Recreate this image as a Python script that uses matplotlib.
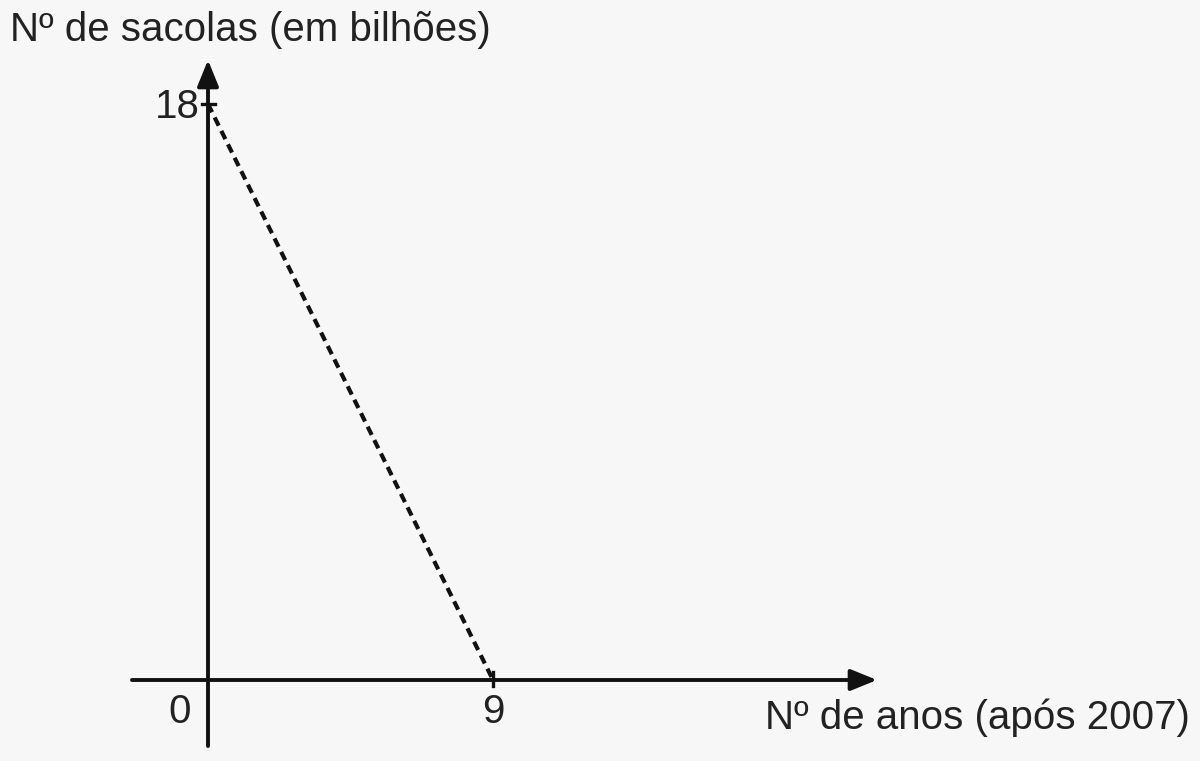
import matplotlib.pyplot as plt

# dados do gráfico
anos = [0, 9]
sacolas = [18, 0]
xticks = [0, 9]
yticks = [18]
titulo_y = 'Nº de sacolas (em bilhões)'
titulo_x = 'Nº de anos (após 2007)'

plt.rcParams['font.family'] = ['Liberation Sans', 'DejaVu Sans']

fig = plt.figure(figsize=(12, 7.61), dpi=100)
fig.patch.set_facecolor('#f7f7f7')
ax = fig.add_axes([0, 0, 1, 1])
ax.set_facecolor('#f7f7f7')

# escala: x=0 -> 208px, x=9 -> 493px ; y=0 -> 680px, y=18 -> 104px
sx = (493 - 208) / 9
sy = (680 - 104) / 18
ax.set_xlim(-208 / sx, (1200 - 208) / sx)
ax.set_ylim((680 - 761) / sy, 680 / sy)
ax.axis('off')

seta = dict(arrowstyle='-|>,head_length=1.6,head_width=0.65', color='#111111', lw=2.8,
            shrinkA=0, shrinkB=0)

# eixos com setas
ax.annotate('', xy=((877 - 208) / sx, 0), xytext=((132 - 208) / sx, 0), arrowprops=seta)
ax.annotate('', xy=(0, (680 - 60) / sy), xytext=(0, (680 - 746) / sy), arrowprops=seta)

# reta tracejada
ax.plot(anos, sacolas, color='#111111', lw=3, linestyle=(0, (2.2, 1.4)))

# marcas
for t in yticks:
    ax.plot([-6 / sx, 7 / sx], [t, t], color='#111111', lw=2.4)
    ax.text(-8 / sx, t - 3 / sy, str(t), ha='right', va='center', fontsize=29, color='#222222')
for t in xticks:
    if t != 0:
        ax.plot([t, t], [-6 / sy, 8 / sy], color='#111111', lw=2.4)
    ax.text(t - (28 / sx if t == 0 else 0), -32 / sy, str(t), ha='center', va='center',
            fontsize=29, color='#222222')

ax.text(-198 / sx, (680 - 30) / sy, titulo_y, ha='left', va='center', fontsize=29, color='#222222')
ax.text((1190 - 208) / sx, -38 / sy, titulo_x, ha='right', va='center', fontsize=29, color='#222222')

fig.savefig('out.png', dpi=100, facecolor=fig.get_facecolor())
